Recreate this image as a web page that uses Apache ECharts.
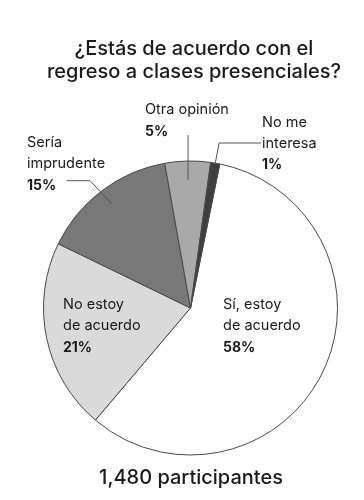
<!DOCTYPE html>
<html>
<head>
<meta charset="utf-8">
<script src="https://cdn.jsdelivr.net/npm/echarts@6/dist/echarts.min.js"></script>
<style>
html,body{margin:0;padding:0;background:#fff;}
#c{width:364px;height:500px;}
</style>
</head>
<body>
<div id="c"></div>
<script>
// ---- data ----
var titleLines = ['¿Estás de acuerdo con el', 'regreso a clases presenciales?'];
var footerText = '1,480 participantes';
var categories = ['Sí, estoy\nde acuerdo', 'No estoy\nde acuerdo', 'Sería\nimprudente', 'Otra opinión', 'No me\ninteresa'];
var values = [58, 21, 15, 5, 1];
var sliceColors = ['#ffffff', '#dadada', '#787878', '#a9a9a9', '#3f3f3f'];

// ---- layout ----
var CX = 190.5, CY = 308, R = 147;
var START = 78.5; // degrees, echarts convention
var FONT = 'Inter';
// label anchor (left, top) per slice
var labelPos = [[223, 294.5], [63, 294.5], [27, 132.5], [145, 99.5], [262, 112]];

var total = values.reduce(function (a, b) { return a + b; }, 0);
// point inside slice i at radius r, along its mid angle
function slicePoint(i, r) {
  var before = 0;
  for (var k = 0; k < i; k++) before += values[k];
  var mid = before + values[i] / 2;
  var deg = START - mid / total * 360; // clockwise
  var rad = deg * Math.PI / 180;
  return [CX + r * Math.cos(rad), CY - r * Math.sin(rad)];
}

var p15 = slicePoint(2, 131);
var p5 = slicePoint(3, 128);
var p1 = slicePoint(4, 146);

var lineStyle = { stroke: '#555', lineWidth: 1, fill: null };

var chart = echarts.init(document.getElementById('c'), null, { renderer: 'canvas' });
chart.setOption({
  animation: false,
  backgroundColor: '#ffffff',
  title: [{
    text: titleLines.join('\n'),
    left: 189,
    textAlign: 'center',
    top: 32,
    textStyle: { fontFamily: FONT, fontSize: 20, fontWeight: 500, color: '#1a1a1a', lineHeight: 23 }
  }, {
    text: footerText,
    left: 186,
    textAlign: 'center',
    top: 463,
    textStyle: { fontFamily: FONT, fontSize: 20, fontWeight: 500, color: '#1a1a1a' }
  }],
  series: [{
    type: 'pie',
    center: [CX, CY],
    radius: [0, R],
    startAngle: START,
    clockwise: true,
    silent: true,
    data: values.map(function (v, i) {
      return { name: categories[i], value: v, itemStyle: { color: sliceColors[i] } };
    }),
    itemStyle: { borderColor: '#4a4a4a', borderWidth: 1 },
    label: {
      show: true,
      position: 'inside',
      formatter: function (p) { return '{n|' + p.name + '}\n{b|' + p.value + '%}'; },
      rich: {
        n: { fontFamily: FONT, fontSize: 14.5, color: '#1a1a1a', lineHeight: 21 },
        b: { fontFamily: FONT, fontSize: 14, fontWeight: 'bold', color: '#1a1a1a', lineHeight: 22 }
      }
    },
    labelLine: { show: false },
    labelLayout: function (params) {
      var pos = labelPos[params.dataIndex];
      return { x: pos[0], y: pos[1], align: 'left', verticalAlign: 'top' };
    }
  }],
  graphic: [
    { type: 'polyline', z: 10, shape: { points: [[66.7, 180.7], [90, 180.7], p15] }, style: lineStyle },
    { type: 'polyline', z: 10, shape: { points: [[p5[0], 135], p5] }, style: lineStyle },
    { type: 'polyline', z: 10, shape: { points: [[261, 143], [p1[0] + 4, 143], p1] }, style: lineStyle }
  ]
});
</script>
</body>
</html>
